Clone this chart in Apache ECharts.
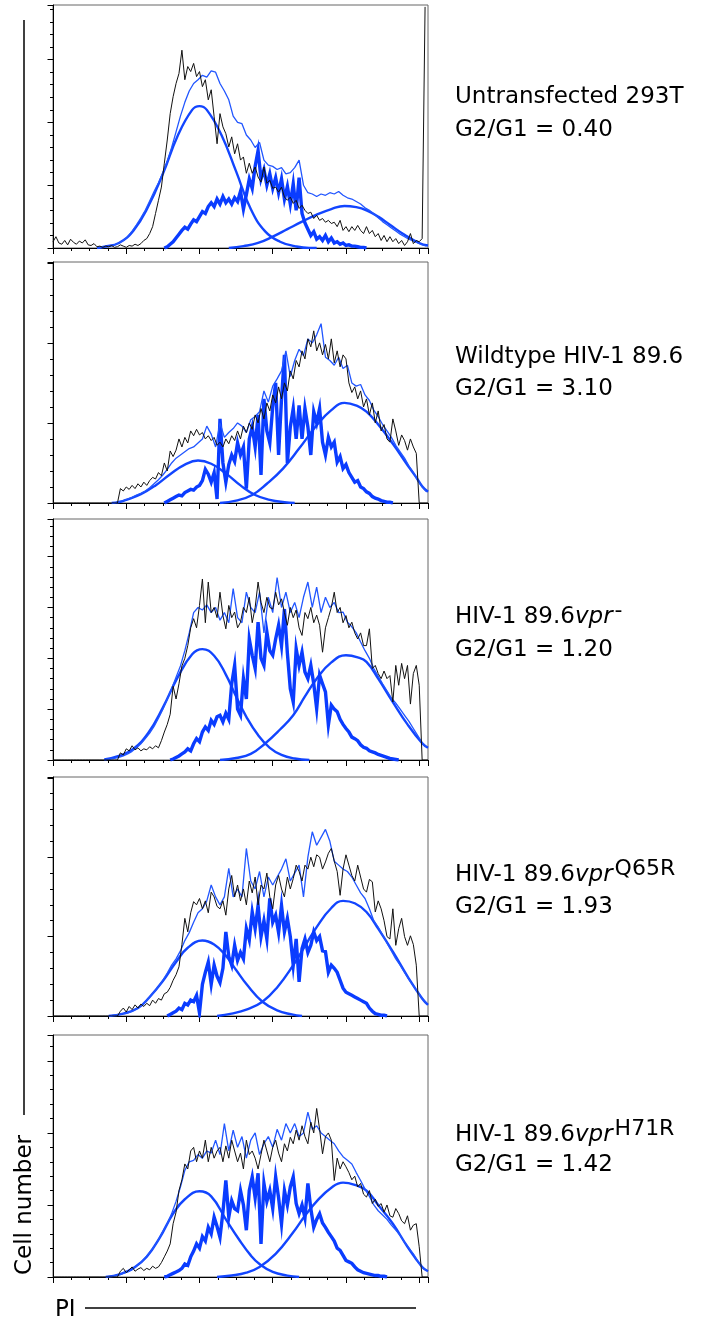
<!DOCTYPE html>
<html><head><meta charset="utf-8">
<script src="https://cdn.jsdelivr.net/npm/echarts@6/dist/echarts.min.js"></script>
<style>html,body{margin:0;padding:0;background:#fff}#c{width:701px;height:1320px}</style>
</head><body><div id="c"></div>
<script>
// ---------------- DATA (PI channel 0..256, cell counts) ----------------
const blackStep = 2, sStep = 2, envStep = 3;
const sStart = [76, 76, 80, 78, 76];
const envStart = [30, 42, 36, 39, 36];
const yMax = [387, 301, 474, 301, 336];
const ratios = ['0.40', '3.10', '1.20', '1.93', '1.42'];
const names = [
  [['Untransfected 293T', 'n']],
  [['Wildtype HIV-1 89.6', 'n']],
  [['HIV-1 89.6', 'n'], ['vpr', 'i'], ['-', 's']],
  [['HIV-1 89.6', 'n'], ['vpr', 'i'], ['Q65R', 's']],
  [['HIV-1 89.6', 'n'], ['vpr', 'i'], ['H71R', 's']]
];

// Panel 1 : Untransfected 293T
const p1Black = [10,18,8,6,12,5,14,9,6,11,8,13,5,4,7,2,3,1,3,2,4,1,2,5,3,1,4,3,6,4,
 7,12,15,23,34,55,76,97,135,172,214,241,262,278,315,268,289,281,294,273,
 281,257,268,236,252,209,166,214,193,182,161,177,150,166,140,145,119,135,119,129,
 113,105,129,103,108,95,97,89,97,81,76,81,71,76,63,68,60,55,57,47,
 52,44,47,41,44,39,41,34,44,28,34,26,34,28,36,28,23,34,23,28,
 18,23,12,20,10,18,10,15,7,12,4,10,23,7,12,10,15,384];
const p1S = [0,2,6,10,16,22,28,33,30,38,45,42,50,58,55,66,72,66,78,70,
 82,72,78,70,80,74,90,62,85,110,95,130,155,110,125,100,118,95,112,88,
 110,78,98,70,102,60,112,55,40,30,20,26,14,18,12,20,10,16,8,10,6,8,4,5,3,3,2,1,1,0];
const p1Env = [1,1,2,3,5,8,12,18,27,37,48,60,75,90,104,120,138,160,185,210,
 232,250,262,268,275,272,282,280,262,250,236,210,200,198,180,172,160,168,140,132,
 130,125,128,118,120,128,140,100,88,86,82,86,84,88,86,90,84,80,78,74,
 70,64,60,54,48,42,37,32,27,22,18,14,11,8,5,3];
const p1G1 = [[30,0],[35,2],[45,8],[55,28],[65,66],[75,118],[85,178],[95,220],[100,226],[105,220],[115,180],[125,122],[135,62],[145,26],[155,10],[165,3],[175,0],[180,0]];
const p1G2 = [[120,0],[130,3],[140,8],[150,18],[160,30],[170,42],[180,53],[190,62],[199,67],[207,65],[214,60],[222,50],[230,37],[240,21],[250,8],[256,4]];

// Panel 2 : Wildtype HIV-1 89.6
const p2Black = [0,0,0,0,0,0,0,0,0,0,0,0,0,0,0,0,0,0,0,0,0,0,0,
 18,15,20,17,22,18,24,20,26,22,28,32,30,38,34,50,40,65,58,66,
 80,70,82,75,90,84,92,85,88,80,84,78,82,72,76,70,80,74,84,78,
 90,80,96,88,100,92,110,100,118,105,125,115,135,125,145,130,150,140,165,155,
 178,170,190,180,205,195,215,190,200,185,198,180,205,175,190,170,185,180,150,138,
 145,130,140,120,130,110,125,100,115,90,98,80,76,105,90,72,85,78,66,80,
 70,62,0,0,0,0];
const p2S = [0,2,4,6,8,10,9,13,15,17,16,20,22,28,42,36,26,38,5,105,
 50,26,48,60,52,75,60,70,18,80,95,70,110,35,130,90,75,120,150,60,
 130,185,50,95,118,80,122,80,118,95,60,114,100,118,76,60,82,70,76,51,
 58,43,48,38,32,26,28,20,18,14,12,8,6,5,3,2,1,1,0];
const p2Env = [0,2,3,5,7,10,12,15,19,24,29,35,42,50,56,60,64,68,70,75,
 80,96,86,70,100,82,88,93,100,96,88,104,108,114,140,126,146,155,165,190,
 158,178,192,184,205,200,210,224,182,178,172,182,168,172,150,146,148,135,128,116,
 108,98,90,82,72,64,56,46,38,28,20,14];
const p2G1 = [[40,0],[45,1],[50,4],[60,11],[70,22],[80,36],[90,48],[99,53],[108,49],[118,37],[128,22],[138,10],[148,4],[158,1],[165,0]];
const p2G2 = [[114,0],[125,3],[136,10],[146,24],[157,43],[168,68],[180,97],[190,116],[199,125],[208,121],[214,114],[222,98],[232,74],[241,50],[248,32],[252,21],[256,14]];

// Panel 3 : HIV-1 89.6 vpr-
const p3Black = [0,0,0,0,0,0,0,0,0,0,0,0,0,0,0,0,0,0,0,0,0,0,0,
 14,10,22,18,28,20,24,18,22,20,26,22,28,24,38,55,70,90,145,120,
 150,185,200,225,260,278,260,304,356,270,350,290,300,280,330,284,258,304,280,291,
 260,271,300,290,320,270,300,350,310,290,320,300,297,330,305,317,290,265,300,280,
 295,260,245,290,278,300,270,285,265,212,260,280,300,330,290,300,270,284,260,271,
 250,238,250,225,225,258,180,186,170,160,175,160,166,114,186,147,190,160,186,110,
 170,186,147,0,0,0];
const p3S = [0,2,5,8,12,16,22,18,32,42,36,55,65,58,78,70,85,88,75,92,
 80,150,186,100,88,160,120,238,206,180,271,200,186,252,215,206,238,265,225,297,
 210,140,114,219,186,212,173,160,186,150,101,167,150,134,69,108,100,95,80,70,
 62,55,45,42,38,30,25,23,18,16,14,11,9,7,5,3,2,1,0];
const p3Env = [1,2,3,5,8,12,17,24,32,42,53,66,82,100,120,140,163,185,215,250,
 290,300,295,305,290,300,275,290,270,337,280,270,330,300,290,330,250,320,290,359,
 300,330,290,310,280,320,350,300,340,290,320,300,310,290,291,271,262,250,232,215,
 200,180,165,150,136,122,112,100,88,76,62,48,34,26];
const p3G1 = [[35,1],[45,8],[55,22],[65,53],[75,103],[85,162],[95,208],[102,218],[110,205],[118,168],[125,125],[132,85],[140,49],[148,24],[156,10],[165,3],[175,0]];
const p3G2 = [[114,0],[125,4],[135,12],[145,33],[155,60],[164,88],[172,125],[180,160],[190,192],[200,206],[208,202],[214,193],[222,160],[232,114],[242,70],[252,33],[256,24]];

// Panel 4 : HIV-1 89.6 vpr Q65R
const p4Black = [0,0,0,0,0,0,0,0,0,0,0,0,0,0,0,0,0,0,0,0,0,0,0,
 6,10,5,12,8,14,10,15,12,16,13,20,16,22,20,28,30,36,45,52,
 62,90,123,106,130,144,140,148,135,145,130,156,150,138,135,145,127,160,177,150,
 165,145,160,140,170,155,175,140,165,160,180,150,135,165,177,160,150,175,160,173,
 190,182,170,190,185,200,188,203,200,185,194,205,211,195,182,152,185,203,190,177,
 170,190,175,160,156,172,169,131,145,135,120,100,97,135,89,110,123,100,89,101,
 90,64,0,0,0,0];
const p4S = [0,2,4,6,10,8,16,14,20,18,26,4,40,55,68,40,64,50,42,60,
 106,75,64,89,70,80,72,110,96,131,110,139,100,120,97,148,118,127,105,139,
 106,123,100,64,97,43,85,97,80,89,106,95,100,82,81,55,64,60,55,45,
 35,30,28,26,24,22,20,18,16,10,6,3,2,1,1,0];
const p4Env = [0,1,2,3,4,6,9,13,18,24,30,37,45,54,64,72,82,95,105,118,
 130,135,145,165,150,140,150,186,150,160,150,211,170,160,182,150,175,165,175,185,
 198,170,180,190,150,200,232,215,225,235,220,195,190,185,182,175,165,155,148,135,
 120,112,102,92,82,72,64,55,46,38,30,22,16];
const p4G1 = [[38,0],[48,3],[58,10],[66,24],[75,44],[84,68],[92,86],[102,95],[110,90],[118,76],[125,58],[133,38],[143,18],[153,7],[163,2],[170,0]];
const p4G2 = [[112,0],[122,3],[132,8],[143,18],[153,36],[164,64],[172,88],[180,112],[190,136],[198,145],[206,142],[214,131],[222,110],[232,81],[242,50],[252,22],[256,14]];

// Panel 5 : HIV-1 89.6 vpr H71R
const p5Black = [0,0,0,0,0,0,0,0,0,0,0,0,0,0,0,0,0,0,0,0,0,0,0,
 8,12,6,10,14,8,11,13,9,12,10,15,12,14,20,28,36,46,74,90,
 120,135,157,150,175,180,160,175,165,190,160,180,165,175,180,160,182,165,190,175,
 160,172,150,190,170,175,165,150,170,190,175,160,180,190,172,160,185,175,194,185,
 204,190,210,195,185,215,200,234,205,171,195,200,190,134,165,150,160,153,145,135,
 140,125,130,115,111,120,102,108,98,102,90,100,85,83,95,88,78,74,85,65,
 72,74,42,0,0,0];
const p5S = [0,1,3,5,7,9,12,18,16,28,36,46,40,56,50,69,60,83,70,55,
 90,134,83,106,95,92,120,100,65,120,139,110,144,46,130,105,120,95,139,110,
 74,120,100,125,139,102,88,100,82,130,95,69,80,88,75,69,62,56,50,40,
 37,30,23,21,19,14,10,8,6,5,4,3,2,2,1,1,0];
const p5Env = [0,1,2,3,5,7,10,15,20,27,34,42,52,63,74,88,105,125,148,160,
 162,170,165,175,172,190,170,213,175,204,180,195,165,190,200,170,185,195,180,205,
 190,213,200,213,195,200,229,205,210,200,195,190,185,175,167,162,157,145,134,122,
 112,100,92,86,80,72,65,58,48,40,32,22,13,9];
const p5G1 = [[36,0],[46,4],[56,14],[64,28],[73,55],[82,88],[90,108],[100,119],[108,112],[118,80],[127,52],[135,30],[141,18],[150,7],[160,2],[168,0]];
const p5G2 = [[112,0],[122,2],[132,6],[141,14],[152,32],[164,62],[172,85],[180,105],[190,124],[198,131],[206,128],[214,120],[222,100],[232,74],[242,42],[252,14],[256,8]];

const blacks = [p1Black, p2Black, p3Black, p4Black, p5Black];
const sPhase = [p1S, p2S, p3S, p4S, p5S];
const envs = [p1Env, p2Env, p3Env, p4Env, p5Env];
const g1s = [p1G1, p2G1, p3G1, p4G1, p5G1];
const g2s = [p1G2, p2G2, p3G2, p4G2, p5G2];

// ---------------- LAYOUT ----------------
const GL = 53, GW = 375;
const gTop = [5, 262, 519, 777, 1035];
const gH = [243, 241, 241, 239, 242];
const base1 = [105, 365, 625, 883, 1143];
const base2 = [138, 397, 658, 915, 1173];
const FF = '"DejaVu Sans", Verdana, sans-serif';
const FS = 23, SFS = 22;

const seq = (start, step, vals) => vals.map((v, i) => [start + i * step, v]);

const grids = [], xAxes = [], yAxes = [], series = [];
const tickStyle = { color: '#000', width: 1 };
// data grids (0..4) with minor-tick axes
for (let i = 0; i < 5; i++) {
  grids.push({ left: GL, top: gTop[i], width: GW, height: gH[i], show: true,
    borderColor: '#666', borderWidth: 1, backgroundColor: 'transparent', containLabel: false });
  xAxes.push({ gridIndex: i, type: 'value', min: 0, max: 256, interval: 12.5, position: 'bottom',
    axisLine: { show: true, lineStyle: { color: '#000', width: 1 } },
    axisTick: { show: true, length: 3, lineStyle: tickStyle },
    axisLabel: { show: false }, splitLine: { show: false } });
  yAxes.push({ gridIndex: i, type: 'value', min: 0, max: yMax[i], interval: 20, position: 'left',
    axisLine: { show: true, lineStyle: { color: '#000', width: 1 } },
    axisTick: { show: true, length: 3, lineStyle: tickStyle },
    axisLabel: { show: false }, splitLine: { show: false } });
}
// overlay grids (5..9) carrying the longer major ticks
for (let i = 0; i < 5; i++) {
  grids.push({ left: GL, top: gTop[i], width: GW, height: gH[i], show: false, containLabel: false });
  xAxes.push({ gridIndex: 5 + i, type: 'value', min: 0, max: 256, interval: 50, position: 'bottom',
    axisLine: { show: false }, axisTick: { show: true, length: 6, lineStyle: tickStyle },
    axisLabel: { show: false }, splitLine: { show: false } });
  yAxes.push({ gridIndex: 5 + i, type: 'value', min: 0, max: yMax[i], interval: 100, position: 'left',
    axisLine: { show: false }, axisTick: { show: true, length: 5.5, lineStyle: tickStyle },
    axisLabel: { show: false }, splitLine: { show: false } });
}
for (let i = 0; i < 5; i++) {
  const common = { type: 'line', showSymbol: false, symbol: 'none', animation: false, silent: true,
    xAxisIndex: i, yAxisIndex: i };
  series.push(Object.assign({}, common, { name: 'G1', data: g1s[i], smooth: 0.45,
    lineStyle: { color: '#1245ff', width: 2.4 } }));
  series.push(Object.assign({}, common, { name: 'G2', data: g2s[i], smooth: 0.45,
    lineStyle: { color: '#1245ff', width: 2.4 } }));
  series.push(Object.assign({}, common, { name: 'S', data: seq(sStart[i], sStep, sPhase[i]),
    lineStyle: { color: '#0a3cff', width: 3.4, join: 'miter' } }));
  series.push(Object.assign({}, common, { name: 'Fit', data: seq(envStart[i], envStep, envs[i]),
    lineStyle: { color: '#2156ff', width: 1.3 } }));
  series.push(Object.assign({}, common, { name: 'Data', data: seq(0, blackStep, blacks[i]),
    lineStyle: { color: '#111', width: 1 } }));
}

// ---------------- TEXT ----------------
const cvs = document.createElement('canvas').getContext('2d');
function fontOf(kind) {
  if (kind === 'i') return 'italic ' + FS + 'px ' + FF;
  if (kind === 's') return SFS + 'px ' + FF;
  return FS + 'px ' + FF;
}
const graphics = [];
const MID = 0.346;
for (let i = 0; i < 5; i++) {
  let x = 455;
  names[i].forEach(([t, k]) => {
    const f = fontOf(k);
    cvs.font = f;
    const w = cvs.measureText(t).width;
    const fs = k === 's' ? SFS : FS;
    const yb = k === 's' ? base1[i] - 6 : base1[i];
    graphics.push({ type: 'text', silent: true, style: { text: t, x: x, y: yb - MID * fs, font: f, fill: '#000',
      textAlign: 'left', verticalAlign: 'middle' } });
    x += w + (k === 'i' ? 2 : 0);
  });
  graphics.push({ type: 'text', silent: true, style: { text: 'G2/G1 = ' + ratios[i], x: 455, y: base2[i] - MID * FS,
    font: fontOf('n'), fill: '#000', textAlign: 'left', verticalAlign: 'middle' } });
}
graphics.push({ type: 'line', silent: true, shape: { x1: 24, y1: 20, x2: 24, y2: 1115 }, style: { stroke: '#000', lineWidth: 1.5 } });
graphics.push({ type: 'text', silent: true, x: 25, y: 1205, rotation: Math.PI / 2,
  style: { text: 'Cell number', x: 0, y: 0, font: fontOf('n'), fill: '#000', textAlign: 'center', verticalAlign: 'middle' } });
graphics.push({ type: 'text', silent: true, style: { text: 'PI', x: 55, y: 1318 - MID * FS, font: fontOf('n'), fill: '#000',
  textAlign: 'left', verticalAlign: 'middle' } });
graphics.push({ type: 'line', silent: true, shape: { x1: 85, y1: 1308, x2: 416, y2: 1308 }, style: { stroke: '#000', lineWidth: 1.5 } });

const chart = echarts.init(document.getElementById('c'), null, { renderer: 'canvas', width: 701, height: 1320 });
chart.setOption({
  animation: false,
  backgroundColor: '#fff',
  grid: grids, xAxis: xAxes, yAxis: yAxes, series: series,
  graphic: graphics
});
</script></body></html>
